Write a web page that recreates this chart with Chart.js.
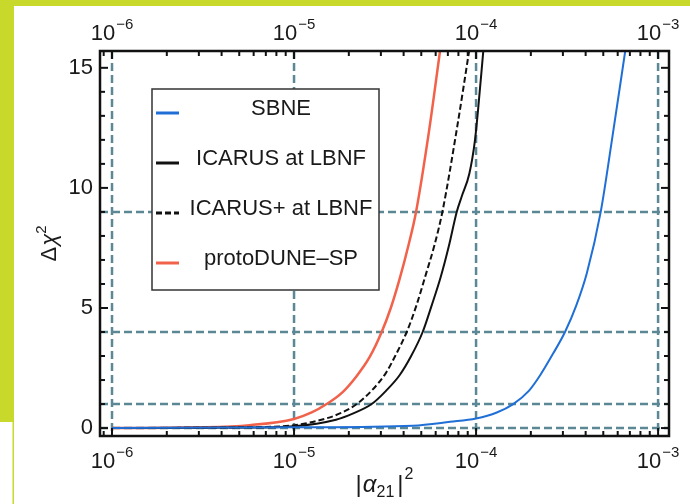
<!DOCTYPE html>
<html>
<head>
<meta charset="utf-8">
<script src="https://cdn.jsdelivr.net/npm/chart.js@4.4.1/dist/chart.umd.min.js"></script>
<style>
  html, body { margin: 0; padding: 0; background: #fff; }
  canvas { display: block; }
</style>
</head>
<body>
<canvas id="chart" width="690" height="504"></canvas>
<script>
// |alpha_21|^2 (x) and delta chi^2 (y)
const sbneX = [1e-6, 1e-5, 4.5e-5, 7.2e-5, 1.0e-4, 1.3e-4, 1.6e-4, 1.95e-4, 2.25e-4, 2.65e-4, 3.08e-4, 3.55e-4, 4.06e-4, 4.84e-4, 5.58e-4, 6.6e-4];
const sbneY = [0, 0.03, 0.1, 0.26, 0.4, 0.65, 1.0, 1.55, 2.2, 3.1, 4.0, 5.1, 6.45, 9.0, 12.0, 15.7];

const icarusX = [1e-6, 5e-6, 1e-5, 1.7e-5, 2.1e-5, 2.67e-5, 3.2e-5, 3.8e-5, 4.4e-5, 5.09e-5, 5.7e-5, 6.4e-5, 7.1e-5, 7.83e-5, 8.34e-5, 9.19e-5, 9.87e-5, 1.03e-4, 1.096e-4];
const icarusY = [0, 0.02, 0.08, 0.35, 0.6, 1.0, 1.55, 2.2, 3.0, 4.0, 5.1, 6.3, 7.6, 9.0, 9.64, 10.6, 12.0, 13.4, 15.7];

const icarusPlusX = [1e-6, 5e-6, 1e-5, 1.5e-5, 1.8e-5, 2.21e-5, 2.7e-5, 3.2e-5, 3.65e-5, 4.16e-5, 4.7e-5, 5.3e-5, 5.9e-5, 6.53e-5, 7.9e-5, 9.16e-5];
const icarusPlusY = [0, 0.03, 0.12, 0.4, 0.62, 1.0, 1.6, 2.3, 3.1, 4.0, 5.1, 6.4, 7.6, 9.0, 12.6, 15.7];

const protoX = [1e-6, 3e-6, 5.7e-6, 1e-5, 1.25e-5, 1.51e-5, 1.85e-5, 2.2e-5, 2.6e-5, 3.03e-5, 3.4e-5, 3.8e-5, 4.25e-5, 4.68e-5, 5.5e-5, 6.34e-5];
const protoY = [0, 0.03, 0.12, 0.38, 0.65, 1.0, 1.5, 2.15, 2.95, 4.0, 5.0, 6.2, 7.6, 9.0, 12.3, 15.7];

const seriesNames = ['SBNE', 'ICARUS at LBNF', 'ICARUS+ at LBNF', 'protoDUNE\u2013SP'];

const decadeTicks = [1e-6, 1e-5, 1e-4, 1e-3];
const decadeExponents = ['\u22126', '\u22125', '\u22124', '\u22123'];
const yTicks = [0, 5, 10, 15];
const yGridLines = [0, 1, 4, 9];

const FONT = '"Liberation Sans", Arial, Helvetica, sans-serif';
const GRID_COLOR = '#5b8894';

function pts(xs, ys) {
  return xs.map((x, i) => ({ x: x, y: ys[i] }));
}

function line(ctx, x1, y1, x2, y2) {
  ctx.beginPath();
  ctx.moveTo(x1, y1);
  ctx.lineTo(x2, y2);
  ctx.stroke();
}

// draws pieces of text one after the other, each with its own font and shift
function drawPieces(ctx, pieces, x, y) {
  let cx = x;
  pieces.forEach(p => {
    ctx.font = p.font;
    ctx.fillText(p.t, cx, y + (p.dy || 0));
    cx += ctx.measureText(p.t).width + (p.gap || 0);
  });
}
function piecesWidth(ctx, pieces) {
  let w = 0;
  pieces.forEach(p => {
    ctx.font = p.font;
    w += ctx.measureText(p.t).width + (p.gap || 0);
  });
  return w;
}

const figurePlugin = {
  id: 'figure',
  beforeDraw(chart) {
    const ctx = chart.ctx;
    ctx.save();
    ctx.fillStyle = '#fff';
    ctx.fillRect(0, 0, chart.width, chart.height);
    // the yellow-green page border
    ctx.fillStyle = '#c9d92c';
    ctx.fillRect(0, 0, chart.width, 6);
    ctx.fillRect(0, 0, 14, 422);
    ctx.fillRect(12.5, 422, 1.5, chart.height - 422);
    ctx.restore();
  },
  beforeDatasetsDraw(chart) {
    const ctx = chart.ctx;
    const a = chart.chartArea;
    const xs = chart.scales.x, ys = chart.scales.y;
    ctx.save();
    ctx.strokeStyle = GRID_COLOR;
    ctx.lineWidth = 2.5;
    ctx.setLineDash([8, 4]);
    decadeTicks.forEach(v => {
      const px = xs.getPixelForValue(v);
      line(ctx, px, a.top, px, a.bottom);
    });
    yGridLines.forEach(v => {
      const py = ys.getPixelForValue(v);
      line(ctx, a.left, py, a.right, py);
    });
    ctx.restore();
  },
  afterDatasetsDraw(chart) {
    const ctx = chart.ctx;
    const a = chart.chartArea;
    const xs = chart.scales.x, ys = chart.scales.y;
    ctx.save();

    // frame
    ctx.strokeStyle = '#111';
    ctx.lineWidth = 2.5;
    ctx.strokeRect(a.left, a.top, a.right - a.left, a.bottom - a.top);

    // inward tick marks on all four sides
    ctx.lineWidth = 2;
    for (let e = -7; e <= -3; e++) {
      for (let m = 1; m <= 9; m++) {
        const v = m * Math.pow(10, e);
        if (v < xs.min || v > xs.max) continue;
        const px = xs.getPixelForValue(v);
        const len = m === 1 ? 8 : 5;
        line(ctx, px, a.bottom, px, a.bottom - len);
        line(ctx, px, a.top, px, a.top + len);
      }
    }
    for (let v = 0; v <= 15; v++) {
      const py = ys.getPixelForValue(v);
      const len = v % 5 === 0 ? 8 : 5;
      line(ctx, a.left, py, a.left + len, py);
      line(ctx, a.right, py, a.right - len, py);
    }

    // decade labels, top and bottom
    ctx.fillStyle = '#1a1a1a';
    ctx.textAlign = 'left';
    ctx.textBaseline = 'alphabetic';
    decadeTicks.forEach((v, i) => {
      const px = xs.getPixelForValue(v);
      const pieces = [
        { t: '10', font: '22px ' + FONT, gap: 1 },
        { t: decadeExponents[i], font: '15px ' + FONT, dy: -11 }
      ];
      const w = piecesWidth(ctx, pieces);
      drawPieces(ctx, pieces, px - w / 2, 468);
      drawPieces(ctx, pieces, px - w / 2, 40);
    });

    // x axis title |alpha_21|^2
    const xTitle = [
      { t: '|', font: '24px ' + FONT, gap: 1 },
      { t: '\u03b1', font: 'italic 24px ' + FONT },
      { t: '21', font: '16px ' + FONT, dy: 5, gap: 3 },
      { t: '|', font: '24px ' + FONT, gap: 1 },
      { t: '2', font: '16px ' + FONT, dy: -13 }
    ];
    const xw = piecesWidth(ctx, xTitle);
    drawPieces(ctx, xTitle, (a.left + a.right) / 2 - xw / 2, 492);

    // y axis title delta chi^2
    const yTitle = [
      { t: '\u0394', font: '22px ' + FONT, gap: 1 },
      { t: '\u03c7', font: 'italic 22px ' + FONT },
      { t: '2', font: '15px ' + FONT, dy: -10 }
    ];
    const yw = piecesWidth(ctx, yTitle);
    ctx.save();
    ctx.translate(56, (a.top + a.bottom) / 2);
    ctx.rotate(-Math.PI / 2);
    drawPieces(ctx, yTitle, -yw / 2, 0);
    ctx.restore();

    // legend box inside the plot
    const box = { x: 152, y: 89, w: 227, h: 201 };
    ctx.fillStyle = '#fff';
    ctx.fillRect(box.x, box.y, box.w, box.h);
    ctx.strokeStyle = '#333';
    ctx.lineWidth = 1.5;
    ctx.strokeRect(box.x, box.y, box.w, box.h);
    chart.data.datasets.forEach((ds, i) => {
      const rowY = 109 + i * 50;
      ctx.strokeStyle = ds.borderColor;
      ctx.lineWidth = 3;
      ctx.setLineDash(ds.borderDash || []);
      line(ctx, 156, rowY + 4, 179, rowY + 4);
      ctx.setLineDash([]);
      ctx.fillStyle = '#1a1a1a';
      ctx.font = '22px ' + FONT;
      ctx.textAlign = 'center';
      ctx.textBaseline = 'middle';
      ctx.fillText(ds.label, 281, rowY);
    });

    ctx.restore();
  }
};

const xMin = Math.pow(10, -6.066);
const xMax = Math.pow(10, -2.94);

new Chart(document.getElementById('chart'), {
  type: 'line',
  data: {
    datasets: [
      { label: seriesNames[0], data: pts(sbneX, sbneY), borderColor: '#1f6fd6', borderWidth: 2 },
      { label: seriesNames[1], data: pts(icarusX, icarusY), borderColor: '#111111', borderWidth: 2 },
      { label: seriesNames[2], data: pts(icarusPlusX, icarusPlusY), borderColor: '#111111', borderWidth: 2, borderDash: [6, 3] },
      { label: seriesNames[3], data: pts(protoX, protoY), borderColor: '#f2614a', borderWidth: 2.5 }
    ]
  },
  options: {
    responsive: false,
    devicePixelRatio: 1,
    animation: false,
    events: [],
    layout: { padding: { left: 0, right: 21, top: 0, bottom: 0 } },
    elements: {
      point: { radius: 0 },
      line: { cubicInterpolationMode: 'monotone', fill: false }
    },
    plugins: {
      legend: { display: false },
      tooltip: { enabled: false }
    },
    scales: {
      x: {
        type: 'logarithmic',
        position: 'bottom',
        min: xMin,
        max: xMax,
        grid: { display: false, drawTicks: false },
        border: { display: false },
        ticks: { display: false },
        afterFit(scale) { scale.height = 68; }
      },
      xTop: {
        type: 'logarithmic',
        position: 'top',
        min: xMin,
        max: xMax,
        grid: { display: false, drawTicks: false },
        border: { display: false },
        ticks: { display: false },
        afterFit(scale) { scale.height = 51; }
      },
      y: {
        type: 'linear',
        min: -0.33,
        max: 15.7,
        grid: { display: false, drawTicks: false },
        border: { display: false },
        ticks: {
          color: '#1a1a1a',
          font: { family: FONT, size: 22 },
          padding: 7
        },
        afterBuildTicks(scale) {
          scale.ticks = yTicks.map(v => ({ value: v }));
        },
        afterFit(scale) { scale.width = 100; }
      }
    }
  },
  plugins: [figurePlugin]
});
</script>
</body>
</html>
